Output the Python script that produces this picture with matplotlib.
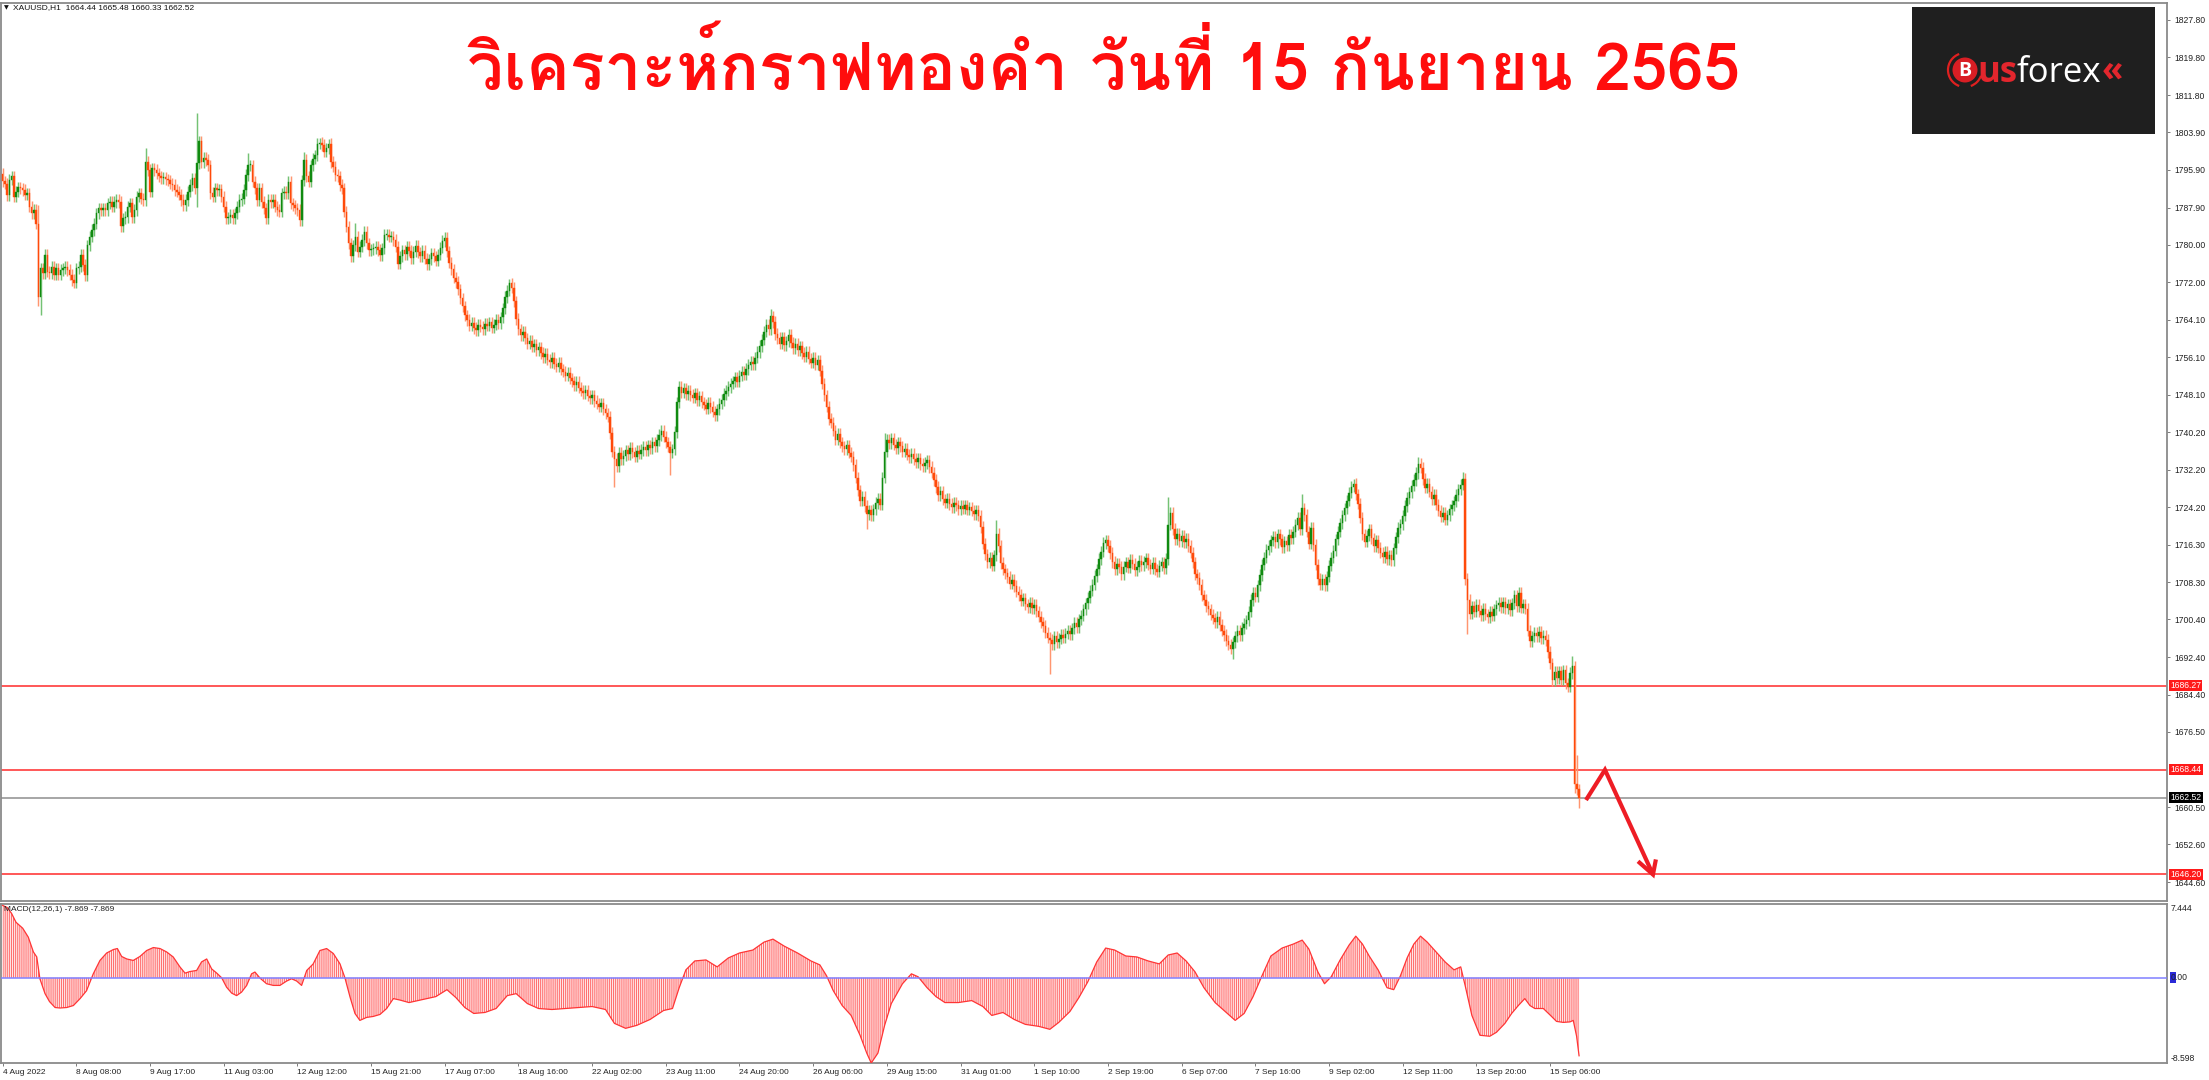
import numpy as np
import matplotlib
matplotlib.use("Agg")
import matplotlib.pyplot as plt
from matplotlib import font_manager
from matplotlib.font_manager import FontProperties
from matplotlib.ft2font import FT2Font
from matplotlib.patches import Rectangle, Circle, Arc
import matplotlib.transforms as mtransforms

# ---------------- data ----------------
symbol_header = "XAUUSD,H1  1664.44 1665.48 1660.33 1662.52"
title_text = "วิเคราะห์กราฟทองคำ วันที่ 15 กันยายน 2565"
first_open = 1795.0
closes = [
    1793.5, 1793.0, 1790.5, 1793.8, 1794.5, 1790.2, 1791.3, 1792.2, 1792.0, 1791.6,
    1790.6, 1790.9, 1788.1, 1786.7, 1787.4, 1784.5, 1768.9, 1775.0, 1774.0, 1777.8,
    1774.3, 1773.9, 1775.3, 1773.6, 1775.0, 1773.6, 1774.6, 1775.0, 1775.3, 1774.6,
    1773.6, 1772.5, 1771.9, 1775.0, 1775.3, 1777.8, 1775.7, 1773.5, 1779.9, 1781.7,
    1783.1, 1784.5, 1786.7, 1787.7, 1787.4, 1787.7, 1787.4, 1788.8, 1789.1, 1788.1,
    1789.1, 1789.5, 1789.1, 1784.0, 1785.6, 1785.9, 1788.1, 1788.8, 1785.9, 1787.4,
    1790.2, 1790.9, 1789.8, 1789.5, 1797.6, 1795.9, 1791.3, 1796.2, 1795.9, 1795.2,
    1794.5, 1794.1, 1794.3, 1793.9, 1793.7, 1793.0, 1792.7, 1791.6, 1791.3, 1790.6,
    1789.5, 1788.4, 1789.5, 1791.3, 1792.7, 1794.1, 1792.0, 1797.3, 1802.0, 1797.5,
    1798.5, 1798.0, 1796.9, 1791.0, 1790.2, 1792.0, 1791.6, 1791.8, 1790.2, 1788.1,
    1785.6, 1785.8, 1786.3, 1785.6, 1786.7, 1788.1, 1789.5, 1789.8, 1791.6, 1794.8,
    1796.9, 1796.9, 1793.4, 1792.0, 1789.5, 1792.0, 1789.1, 1787.7, 1785.6, 1789.5,
    1789.1, 1789.5, 1788.1, 1787.4, 1787.0, 1790.9, 1791.3, 1790.9, 1793.4, 1788.8,
    1788.4, 1787.7, 1787.4, 1785.2, 1793.7, 1798.0, 1794.5, 1793.4, 1796.9, 1798.3,
    1799.0, 1801.5, 1801.7, 1801.2, 1799.8, 1800.5, 1801.5, 1797.6, 1796.6, 1794.8,
    1794.5, 1792.7, 1792.0, 1787.0, 1783.8, 1780.3, 1777.5, 1779.9, 1781.7, 1778.5,
    1779.6, 1781.0, 1782.8, 1780.3, 1778.9, 1779.0, 1779.2, 1779.6, 1778.9, 1777.8,
    1779.2, 1782.1, 1782.1, 1781.7, 1781.7, 1781.0, 1779.6, 1776.0, 1777.5, 1778.8,
    1778.0, 1779.5, 1778.7, 1777.2, 1778.5, 1779.8, 1778.4, 1777.6, 1778.7, 1777.0,
    1775.8, 1776.9, 1778.2, 1777.5, 1776.6, 1777.9, 1779.4, 1780.8, 1781.5, 1778.6,
    1776.2, 1774.8, 1773.0, 1772.1, 1770.5, 1768.6, 1766.9, 1765.0, 1764.0, 1762.8,
    1763.4, 1762.3, 1761.9, 1763.0, 1762.6, 1762.0, 1763.2, 1762.8, 1763.5, 1762.4,
    1763.0, 1764.1, 1763.3, 1764.6, 1766.5, 1768.9, 1770.2, 1771.8, 1770.9, 1768.0,
    1764.2, 1762.0, 1760.8, 1761.5, 1760.1, 1759.0, 1759.6, 1758.3, 1758.8, 1757.6,
    1758.2, 1757.0, 1756.1, 1756.8, 1755.6, 1755.0, 1755.9, 1754.7, 1754.1, 1754.9,
    1753.5, 1753.0, 1752.2, 1752.8, 1751.6, 1751.0, 1750.2, 1750.8, 1749.6, 1749.0,
    1748.4, 1749.1, 1747.9, 1747.4, 1748.0, 1746.8, 1746.2, 1745.6, 1746.3, 1745.0,
    1744.2, 1743.5, 1740.0, 1736.0, 1734.5, 1733.0, 1735.8, 1734.4, 1735.2, 1736.3,
    1735.5, 1736.8, 1735.9, 1735.0, 1736.2, 1735.6, 1736.4, 1737.0, 1736.3, 1737.4,
    1736.8, 1738.0, 1737.2, 1738.5, 1739.6, 1740.4, 1739.2, 1738.0, 1737.1, 1735.8,
    1736.5, 1740.2, 1746.5, 1749.8, 1748.6, 1749.5, 1748.2, 1748.9, 1748.1, 1747.5,
    1748.4, 1747.0, 1747.8, 1746.5, 1746.0, 1745.2, 1746.4, 1745.5, 1744.5, 1743.8,
    1745.0, 1746.2, 1747.0, 1748.3, 1749.0, 1749.8, 1750.5, 1751.0, 1751.8, 1750.9,
    1752.2, 1753.0, 1752.4, 1753.6, 1754.5, 1755.1, 1754.6, 1756.0, 1757.2, 1758.5,
    1759.8, 1761.5, 1763.0, 1762.1, 1764.8, 1763.6, 1761.0, 1760.2, 1759.0, 1760.3,
    1758.6, 1759.5, 1760.8, 1759.2, 1758.0, 1758.9, 1757.6, 1758.4, 1757.0, 1756.2,
    1757.3, 1755.8, 1754.9, 1756.0, 1754.5, 1755.4, 1753.2, 1750.5, 1748.0, 1745.6,
    1743.0, 1742.2, 1740.5, 1738.6, 1739.8, 1738.0, 1737.2, 1736.5, 1737.4, 1735.8,
    1735.0, 1733.2, 1730.5, 1727.8, 1725.6, 1726.4, 1724.5, 1722.8, 1723.6, 1722.5,
    1723.8, 1725.1, 1726.0, 1724.8, 1730.5, 1736.0, 1738.5, 1737.8, 1738.9, 1737.5,
    1736.8, 1738.0, 1737.2, 1736.0, 1736.6, 1735.4, 1734.8, 1735.6, 1734.5, 1733.8,
    1734.6, 1733.4, 1732.9, 1733.6, 1734.2, 1732.8, 1731.6, 1730.0, 1728.5, 1726.8,
    1727.6, 1725.9, 1725.2, 1726.0, 1724.9, 1724.3, 1725.1, 1724.6, 1723.8, 1724.5,
    1723.9, 1724.6, 1723.7, 1724.2, 1723.5, 1722.8, 1723.6, 1722.4, 1720.0, 1716.5,
    1714.2, 1712.6, 1713.5, 1711.8, 1714.0, 1718.6, 1716.0, 1712.4, 1711.0, 1710.2,
    1709.4, 1708.0, 1708.8, 1707.5, 1706.3, 1705.6, 1704.4, 1704.9, 1703.6, 1703.0,
    1703.9, 1702.8, 1703.5, 1702.1, 1701.0, 1699.8, 1699.0, 1697.6, 1696.5, 1696.0,
    1695.2, 1696.8, 1695.6, 1696.3, 1697.1, 1696.5, 1697.4, 1698.0, 1697.3, 1698.5,
    1699.6, 1698.8, 1700.4, 1701.2, 1702.5, 1703.8, 1705.0, 1706.5, 1707.8, 1709.6,
    1711.0, 1713.2, 1714.8, 1716.6, 1717.2, 1716.0, 1714.5, 1712.6, 1711.0, 1712.2,
    1711.5, 1710.0, 1711.6, 1712.5, 1711.4, 1713.0, 1712.2, 1710.8, 1711.6, 1712.8,
    1711.9, 1712.6, 1713.4, 1712.0, 1711.2, 1712.4, 1711.0, 1710.5, 1711.8, 1712.5,
    1711.3, 1713.2, 1720.5, 1723.0, 1719.6, 1717.4, 1718.6, 1717.0, 1718.2, 1716.8,
    1717.5, 1716.0, 1714.6, 1712.5, 1710.0, 1709.2, 1707.8, 1705.5, 1704.6, 1703.2,
    1702.5, 1701.4, 1700.6, 1699.8, 1700.9, 1699.2, 1698.0, 1697.1, 1695.9, 1695.0,
    1694.2, 1695.5, 1696.8, 1698.0, 1697.0, 1698.6, 1699.5, 1700.2, 1702.0, 1704.5,
    1706.0, 1705.2, 1707.6, 1709.8, 1712.0, 1713.5, 1715.2, 1716.0, 1717.2, 1718.0,
    1716.8, 1718.5, 1717.4, 1715.8, 1717.0, 1716.2, 1718.4, 1717.6, 1719.0, 1720.5,
    1722.0, 1719.6, 1724.0, 1722.6, 1719.0, 1716.5, 1719.8, 1716.2, 1712.0, 1709.0,
    1707.8, 1708.9, 1707.6, 1709.5, 1711.8, 1713.5, 1715.0, 1717.4, 1719.0, 1720.8,
    1722.5, 1724.0, 1725.6, 1727.3, 1728.6, 1729.2, 1727.0, 1725.0, 1722.0, 1718.5,
    1716.9, 1718.2, 1719.5, 1717.6, 1716.0, 1717.2, 1715.6, 1714.6, 1713.6, 1714.8,
    1713.2, 1714.0, 1713.0, 1715.5, 1717.8, 1719.8, 1720.6, 1722.4, 1724.5, 1726.2,
    1727.4, 1728.8, 1730.0, 1731.5, 1733.5, 1732.6, 1730.2, 1728.4, 1729.2, 1727.5,
    1725.9, 1726.8, 1724.8, 1723.5, 1722.2, 1723.0, 1721.6, 1722.5, 1723.8, 1724.6,
    1725.5, 1726.8, 1728.0, 1729.0, 1730.2, 1709.0, 1704.5, 1701.6, 1703.2, 1702.0,
    1703.5, 1702.2, 1701.3, 1702.6, 1701.5, 1700.8, 1702.0, 1701.2, 1702.5, 1703.4,
    1703.9, 1703.0, 1704.0, 1702.8, 1703.6, 1702.4, 1703.8, 1705.5, 1703.2, 1706.0,
    1702.9, 1703.6, 1702.7, 1698.0, 1695.8, 1696.8, 1697.5, 1696.9, 1697.8, 1696.4,
    1696.9, 1696.0, 1693.5, 1691.1, 1687.5, 1689.3, 1687.9, 1689.4, 1687.6, 1689.6,
    1686.8, 1686.1, 1689.0, 1690.4, 1665.5, 1664.44, 1662.52,
]
wick = 1.2
wick_high = {16: 1788.5, 64: 1800.5, 87: 1807.9, 88: 1803.2, 110: 1799.4, 135: 1799.6,
             142: 1802.6, 146: 1802.4, 158: 1784.6, 198: 1782.6, 227: 1772.8, 303: 1751.0,
             344: 1766.3, 395: 1740.0, 445: 1721.6, 522: 1726.5, 582: 1727.0, 605: 1730.2,
             634: 1735.0, 654: 1731.8, 703: 1692.6, 705: 1671.6, 706: 1665.48}
wick_low = {16: 1767.0, 17: 1765.1, 87: 1788.0, 274: 1728.6, 299: 1731.0, 387: 1719.5,
            469: 1688.9, 551: 1692.0, 656: 1697.4, 704: 1663.5, 705: 1663.0, 706: 1660.33}
red_levels = [1686.27, 1668.44, 1646.20]
last_price = 1662.52
price_ticks = [1827.80, 1819.80, 1811.80, 1803.90, 1795.90, 1787.90, 1780.00, 1772.00,
               1764.10, 1756.10, 1748.10, 1740.20, 1732.20, 1724.20, 1716.30, 1708.30,
               1700.40, 1692.40, 1684.40, 1676.50, 1660.50, 1652.60, 1644.60]
time_labels = ['4 Aug 2022', '8 Aug 08:00', '9 Aug 17:00', '11 Aug 03:00', '12 Aug 12:00',
               '15 Aug 21:00', '17 Aug 07:00', '18 Aug 16:00', '22 Aug 02:00', '23 Aug 11:00',
               '24 Aug 20:00', '26 Aug 06:00', '29 Aug 15:00', '31 Aug 01:00', '1 Sep 10:00',
               '2 Sep 19:00', '6 Sep 07:00', '7 Sep 16:00', '9 Sep 02:00', '12 Sep 11:00',
               '13 Sep 20:00', '15 Sep 06:00']
bars_per_label = 33
macd_bar = [0, 2, 4, 6, 9, 11.5, 13.8, 15.3, 16.7, 19, 21, 23.5, 25.7, 28.7, 31.7, 34.7, 37.6,
            40.6, 43.6, 46.6, 49.6, 51.4, 53.3, 55.6, 58.5, 61.5, 64.5, 67.5, 70.5, 73.5, 76.4,
            79.4, 81.7, 83.9, 86.9, 89.1, 91.4, 93.6, 95.9, 98.1, 100.3, 102.6, 104.8, 107,
            109.3, 111.5, 113, 115.3, 118.2, 121.2, 124.2, 127.2, 129.4, 131.7, 133.9, 136.2,
            139.1, 142.1, 145.1, 148.1, 151.1, 153.3, 155.6, 157.8, 160, 163, 166, 169, 172,
            175, 178, 182, 188, 194, 199, 203, 207, 211, 216, 221, 226, 230, 235, 240, 246,
            252, 258, 264, 270, 274, 279, 284, 290, 296, 300, 303, 306, 310, 315, 320, 325,
            330, 336, 341, 345, 350, 356, 362, 366, 369, 372, 376, 380, 384, 387, 389, 392,
            395, 398, 403, 407, 410, 414, 418, 422, 428, 434, 439, 443, 448, 453, 458, 464,
            469, 473, 478, 482, 486, 490, 494, 498, 503, 508, 513, 518, 522, 526, 530, 534,
            538, 543, 548, 552, 556, 560, 564, 568, 573, 578, 582, 585, 589, 592, 595, 599,
            603, 606, 609, 612, 616, 620, 623, 626, 629, 632, 635, 638, 642, 646, 650, 653,
            655, 658, 661.6, 666, 669, 672.8, 675.8, 678.8, 681.7, 684, 686.2, 690, 693,
            695.9, 698.9, 701.9, 703.4, 704.9, 706]
macd_val = [7.3, 7.1, 6.5, 5.6, 5.0, 4.1, 2.6, 2.1, -0.1, -1.6, -2.4, -3.0, -3.05, -3.0, -2.8,
            -2.1, -1.3, 0.4, 1.75, 2.5, 2.85, 2.95, 2.15, 1.9, 1.75, 2.15, 2.75, 3.05, 2.95, 2.6,
            2.1, 1.1, 0.47, 0.63, 0.74, 1.6, 1.9, 0.9, 0.47, 0.0, -0.95, -1.55, -1.8, -1.45,
            -0.77, 0.4, 0.58, -0.04, -0.6, -0.77, -0.77, -0.33, -0.1, -0.33, -0.77, 0.74, 1.4,
            2.75, 2.95, 2.45, 1.4, 0.0, -1.95, -3.6, -4.3, -4.0, -3.9, -3.7, -3.1, -2.1, -2.25,
            -2.5, -2.2, -1.9, -1.2, -2.0, -3.0, -3.6, -3.5, -3.1, -1.8, -1.6, -2.6, -3.1, -3.2,
            -3.1, -3.0, -2.9, -3.2, -4.6, -5.1, -4.8, -4.2, -3.3, -3.1, -1.0, 0.8, 1.7, 1.8,
            1.1, 2.0, 2.5, 2.8, 3.6, 3.9, 3.2, 2.5, 1.7, 1.3, 0.2, -1.3, -2.8, -3.8, -5.8,
            -7.6, -8.598, -7.6, -4.8, -2.6, -0.6, 0.4, 0.1, -1.0, -1.9, -2.5, -2.5, -2.3, -2.9,
            -3.8, -3.5, -4.2, -4.7, -4.9, -5.2, -4.5, -3.4, -2.0, -0.4, 1.6, 3.0, 2.8, 2.2,
            2.1, 1.7, 1.4, 2.3, 2.5, 1.7, 0.6, -1.0, -2.5, -3.5, -4.3, -3.6, -1.9, 0.2, 2.2,
            3.0, 3.4, 3.8, 2.9, 0.6, -0.6, 0.1, 1.8, 3.3, 4.2, 3.4, 2.2, 0.8, -1.0, -1.2, 0.2,
            2.0, 3.4, 4.2, 3.6, 2.6, 1.6, 0.8, 1.1, -0.8, -3.8, -5.8, -5.9, -5.5, -4.6, -3.6,
            -2.8, -2.1, -2.8, -3.1, -3.1, -3.75, -4.4, -4.5, -4.45, -4.3, -5.9, -7.869]
macd_top, macd_bottom = 7.444, -8.598
macd_label = "MACD(12,26,1) -7.869 -7.869"

# ---------------- helpers ----------------
W, H = 2209, 1080
plt.rcParams['font.family'] = ['Liberation Sans', 'DejaVu Sans']
plt.rcParams['hatch.linewidth'] = 0.7


def rect(x0, y0, x1, y1):
    return [x0 / W, 1 - y1 / H, (x1 - x0) / W, (y1 - y0) / H]


def pick_font(sample):
    best = None
    for f in font_manager.fontManager.ttflist:
        try:
            ft = FT2Font(f.fname)
        except Exception:
            continue
        ok = all(ft.get_char_index(ord(ch)) for ch in sample if not ch.isspace())
        if ok:
            w = f.weight if isinstance(f.weight, int) else (700 if 'bold' in str(f.weight).lower() else 400)
            score = -abs(w - 700)
            if best is None or score > best[0]:
                best = (score, f)
    return best[1] if best else None


fig = plt.figure(figsize=(W / 100, H / 100), dpi=100)
fig.patch.set_facecolor('white')

ax = fig.add_axes(rect(1, 3, 2167, 901))
axm = fig.add_axes(rect(1, 904, 2167, 1063))

n = len(closes)
c = np.array(closes)
o = np.concatenate([[first_open], c[:-1]])
hi = np.maximum(o, c) + wick
lo = np.minimum(o, c) - wick
for k, v in wick_high.items():
    if k < n:
        hi[k] = v
for k, v in wick_low.items():
    if k < n:
        lo[k] = v
idx = np.arange(n)
up = c >= o

xl = (-0.72, 969.3)
for a in (ax, axm):
    a.set_xlim(*xl)
    a.set_facecolor('white')
    for s in a.spines.values():
        s.set_color('#8a8a8a')
        s.set_linewidth(1.3)

ax.set_ylim(1640.57, 1831.35)
ax.vlines(idx, lo, hi, colors=np.where(up, '#74c274', '#ff9670'), linewidth=1.05, zorder=2)
ax.bar(idx, np.maximum(np.abs(c - o), 0.15), bottom=np.minimum(o, c), width=0.68,
       color=np.where(up, '#108a10', '#ff4a0a'), edgecolor=np.where(up, '#108a10', '#ff4a0a'),
       linewidth=0.3, zorder=3)

for lv in red_levels:
    ax.axhline(lv, color='#ff2a2a', linewidth=1.1, zorder=1)
ax.axhline(last_price, color='#8e8e8e', linewidth=1.1, zorder=1)

ax.set_xticks([])
ax.yaxis.tick_right()
ax.set_yticks(price_ticks)
ax.set_yticklabels([f'{v:.2f}' for v in price_ticks])
ax.tick_params(axis='y', length=2.5, width=0.7, color='#7a7a7a', pad=2.5, labelsize=6.2, labelcolor='#222222')

btr = mtransforms.blended_transform_factory(ax.transAxes, ax.transData)
for lv in red_levels:
    ax.text(1.0016, lv, f'{lv:.2f}', transform=btr, ha='left', va='center', fontsize=6.2, color='white',
            bbox=dict(boxstyle='square,pad=0.12', fc='#ff1a1a', ec='none'), zorder=5)
ax.text(1.0016, last_price, f'{last_price:.2f}', transform=btr, ha='left', va='center', fontsize=6.2,
        color='white', bbox=dict(boxstyle='square,pad=0.12', fc='#000000', ec='none'), zorder=5)

# forecast arrow (annotation)
lvl_up, lvl_dn = red_levels[1], red_levels[2]
tip_x = n + 32.1
ax.plot([n + 2.1, n + 10.6, tip_x], [last_price - 0.5, lvl_up, lvl_dn], color='#ee1d25', lw=3.0,
        solid_joinstyle='miter', solid_capstyle='butt', zorder=6, clip_on=False)
ax.plot([tip_x - 6.7, tip_x, tip_x + 1.3], [lvl_dn + 2.8, lvl_dn, lvl_dn + 3.2], color='#ee1d25', lw=3.0,
        solid_joinstyle='miter', solid_capstyle='butt', zorder=6, clip_on=False)

# MACD panel
axm.set_ylim(macd_bottom, macd_top)
axm.fill_between(macd_bar, 0, macd_val, facecolor='#ffe6e6', edgecolor='#ff6a6a', hatch='|' * 8,
                 linewidth=0, zorder=2)
axm.plot(macd_bar, macd_val, color='#ff3535', lw=0.9, zorder=3)
axm.axhline(0, color='#8080ff', lw=1.1, zorder=4)
axm.set_yticks([])
axm.set_xticks([bars_per_label * i for i in range(len(time_labels))])
axm.set_xticklabels(time_labels, ha='left')
axm.tick_params(axis='x', length=2.5, width=0.7, color='#7a7a7a', pad=1.5, labelsize=6.0, labelcolor='#222222')
axm.text(0.0015, 0.985, macd_label, transform=axm.transAxes, ha='left', va='top', fontsize=6.0, color='#222222')
bm = mtransforms.blended_transform_factory(axm.transAxes, axm.transData)
axm.text(1.0016, macd_top, f'{macd_top:.3f}', transform=bm, ha='left', va='top', fontsize=6.2, color='#222222')
axm.text(1.0016, macd_bottom, f'{macd_bottom:.3f}', transform=bm, ha='left', va='bottom', fontsize=6.2, color='#222222')
# blue marker box behind the zero label, then the label itself
zero_box_w = 6.0 / 2166.0
zero_box_h = 11.0 / 159.0 * (macd_top - macd_bottom)
axm.add_patch(Rectangle((1.0016, -zero_box_h / 2), zero_box_w, zero_box_h, transform=bm,
                        fc='#2a2ad8', ec='none', clip_on=False, zorder=5))
axm.text(1.0016, 0, '0.00', transform=bm, ha='left', va='center', fontsize=6.2, color='#222222', zorder=6)

# header
fig.text(4 / W, 1 - 7.5 / H, '\u25BC', fontsize=4.5, ha='left', va='center', color='#111111', family='DejaVu Sans')
fig.text(13 / W, 1 - 7.5 / H, symbol_header, fontsize=6.0, ha='left', va='center', color='#111111')

# title
thai = pick_font(set(title_text))
if thai is not None:
    tprop = FontProperties(fname=thai.fname, size=47)
else:
    tprop = FontProperties(family='DejaVu Sans', weight='bold', size=47)
fig.text(1104 / W, 1 - 68 / H, title_text, fontproperties=tprop, color='#ff0d0d', ha='center', va='center')

# logo
al = fig.add_axes(rect(1912, 7, 2155, 134))
al.set_xlim(0, 243)
al.set_ylim(0, 127)
al.axis('off')
al.add_patch(Rectangle((0, 0), 243, 127, fc='#1f1f1f', ec='none'))
al.add_patch(Arc((53, 64), 34, 34, theta1=110, theta2=250, color='#e02020', lw=1.6))
al.add_patch(Arc((53, 64), 34, 34, theta1=-70, theta2=-20, color='#e02020', lw=1.6))
al.add_patch(Circle((53, 64), 12.5, fc='#d81e24', ec='none'))
al.text(53, 63.5, 'B', ha='center', va='center', fontsize=14, fontweight='bold', color='white', family='Open Sans')
r = fig.canvas.get_renderer()
t1 = al.text(65, 52, 'us', ha='left', va='baseline', fontsize=25, fontweight='bold', color='#e3262d', family='Open Sans')
bb = t1.get_window_extent(r)
x1 = al.transData.inverted().transform((bb.x1, 0))[0]
t2 = al.text(x1 - 1, 52, 'forex', ha='left', va='baseline', fontsize=25, color='white', family='Open Sans')
bb2 = t2.get_window_extent(r)
x2 = al.transData.inverted().transform((bb2.x1, 0))[0]
al.text(x2 + 1, 53, '\u00AB', ha='left', va='baseline', fontsize=25, fontweight='bold', color='#e3262d', family='Open Sans')

fig.savefig('out.png', dpi=100)
